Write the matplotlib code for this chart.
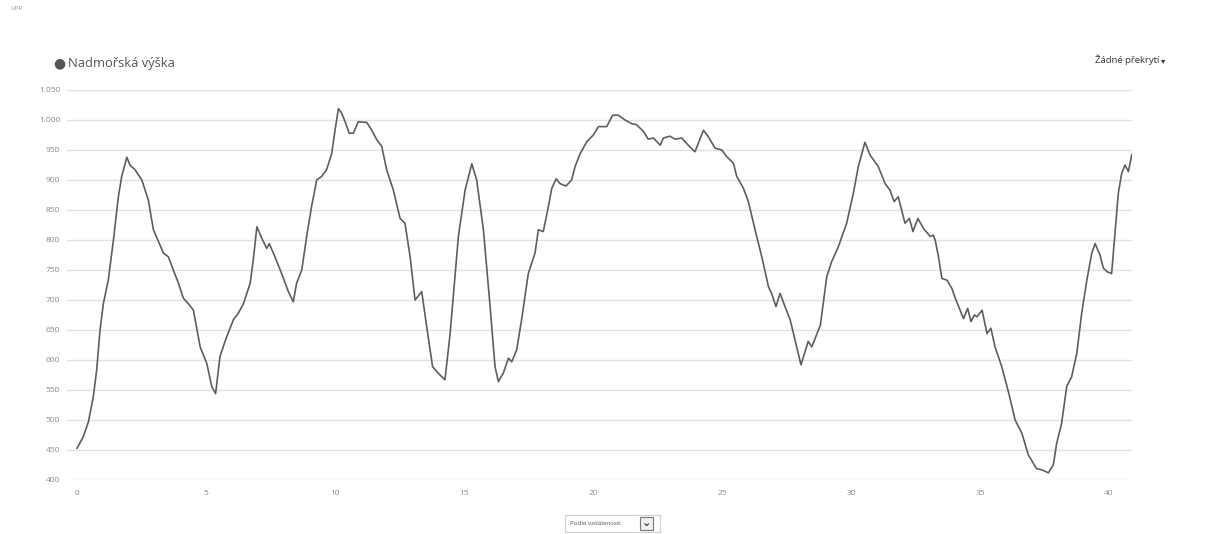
import matplotlib
matplotlib.use("Agg")
import matplotlib.pyplot as plt
from matplotlib.patches import Rectangle

# Distance (km) and elevation (m)
distance_km = [
    0.00, 0.24, 0.44, 0.63, 0.76, 0.89, 1.02, 1.21, 1.41, 1.60, 1.73, 1.93, 2.05, 2.25, 2.51, 2.76,
    2.96, 3.35, 3.54, 3.73, 3.93, 4.12, 4.31, 4.51, 4.77, 5.03, 5.22, 5.37, 5.54, 5.80, 6.06, 6.25,
    6.45, 6.71, 6.83, 6.97, 7.16, 7.35, 7.45, 7.67, 7.93, 8.19, 8.38, 8.51, 8.71, 8.90, 9.09, 9.29,
    9.48, 9.67, 9.87, 10.00, 10.13, 10.26, 10.39, 10.55, 10.71, 10.90, 11.23, 11.42, 11.62, 11.81,
    12.00, 12.26, 12.52, 12.71, 12.91, 13.10, 13.36, 13.55, 13.78, 14.00, 14.26, 14.46, 14.78, 15.04,
    15.30, 15.49, 15.75, 16.01, 16.20, 16.33, 16.52, 16.72, 16.85, 17.04, 17.23, 17.49, 17.75, 17.88,
    18.07, 18.27, 18.40, 18.57, 18.72, 18.95, 19.17, 19.30, 19.50, 19.76, 20.01, 20.21, 20.53, 20.76,
    20.98, 21.24, 21.50, 21.69, 21.95, 22.14, 22.34, 22.60, 22.73, 22.98, 23.18, 23.44, 23.69, 23.95,
    24.28, 24.47, 24.73, 24.99, 25.18, 25.44, 25.57, 25.83, 26.02, 26.28, 26.54, 26.80, 26.92, 27.09,
    27.25, 27.44, 27.64, 27.83, 28.06, 28.22, 28.34, 28.48, 28.81, 29.06, 29.25, 29.51, 29.83, 30.09,
    30.28, 30.54, 30.73, 31.06, 31.32, 31.51, 31.67, 31.83, 32.09, 32.26, 32.40, 32.59, 32.81, 33.07,
    33.19, 33.26, 33.39, 33.52, 33.72, 33.91, 34.04, 34.23, 34.36, 34.52, 34.65, 34.78, 34.88, 35.08,
    35.27, 35.42, 35.58, 35.84, 36.10, 36.36, 36.62, 36.87, 37.19, 37.39, 37.65, 37.84, 37.97, 38.16,
    38.36, 38.55, 38.75, 38.94, 39.14, 39.33, 39.46, 39.65, 39.78, 39.93, 40.10, 40.23, 40.36, 40.49,
    40.62, 40.75, 40.88,
]
elevation_m = [
    453, 472, 497, 539, 583, 650, 694, 733, 800, 872, 906, 938, 925, 917, 900, 867,
    817, 778, 772, 750, 728, 703, 694, 683, 622, 594, 556, 544, 606, 639, 667, 678,
    694, 728, 767, 822, 803, 786, 794, 772, 744, 714, 697, 728, 750, 806, 856, 900,
    906, 917, 944, 983, 1019, 1011, 997, 978, 978, 997, 996, 983, 967, 956,
    917, 883, 836, 828, 772, 700, 714, 656, 589, 578, 567, 644, 806, 883,
    927, 900, 817, 689, 589, 564, 578, 603, 597, 617, 667, 744, 778, 817,
    814, 856, 886, 902, 894, 890, 900, 922, 944, 964, 975, 989, 989, 1008,
    1008, 1000, 994, 992, 981, 968, 970, 958, 970, 973, 968, 970, 958, 947,
    983, 972, 953, 950, 939, 928, 906, 886, 864, 817, 772, 722, 711, 689,
    711, 689, 667, 633, 592, 614, 631, 622, 658, 739, 764, 789, 828, 878,
    922, 963, 942, 922, 894, 883, 864, 872, 828, 836, 814, 836, 819, 806,
    808, 800, 772, 736, 733, 719, 703, 683, 669, 686, 664, 675, 672, 683,
    644, 653, 622, 589, 547, 500, 478, 442, 419, 417, 412, 425, 461, 494,
    556, 572, 611, 678, 733, 778, 794, 775, 753, 747, 744, 811, 878, 911,
    925, 914, 942,
]
x_ticks = [0, 5, 10, 15, 20, 25, 30, 35, 40]
y_ticks = [400, 450, 500, 550, 600, 650, 700, 750, 800, 850, 900, 950, 1000, 1050]
y_tick_labels = ["400", "450", "500", "550", "600", "650", "700", "750", "800", "850",
                 "900", "950", "1.000", "1.050"]
series_name = "Nadmořská výška"

plt.rcParams['font.family'] = ['Open Sans', 'DejaVu Sans']

W, H = 1213, 534
fig = plt.figure(figsize=(W / 100, H / 100), dpi=100)
fig.patch.set_facecolor("white")

ax = fig.add_axes([67 / W, 1 - 480 / H, (1132 - 67) / W, (480 - 90) / H])
ax.plot(distance_km, elevation_m, color="#5e5e5e", lw=1.2, solid_joinstyle="round")
ax.set_xlim(-0.39, 40.89)
ax.set_ylim(400, 1050)
ax.set_xticks(x_ticks)
ax.set_xticklabels([str(t) for t in x_ticks])
ax.set_yticks(y_ticks)
ax.set_yticklabels(y_tick_labels)
ax.grid(axis="y", color="#e2e2e2", lw=1.0)
ax.grid(axis="x", visible=False)
ax.set_axisbelow(True)
for s in ax.spines.values():
    s.set_visible(False)
ax.tick_params(axis="both", length=0, labelsize=6, labelcolor="#8a8a8a")
ax.tick_params(axis="y", pad=5)
ax.tick_params(axis="x", pad=7)

# Title with dot marker
fig.text(53 / W, 1 - 63 / H, "●", fontsize=10, color="#555555", va="center", ha="left",
         family=["DejaVu Sans"])
fig.text(68 / W, 1 - 64 / H, series_name, fontsize=9.3, color="#555555", va="center", ha="left")

# Overlay selector at top right
fig.text(1159 / W, 1 - 60 / H, "Žádné překrytí", fontsize=6.8, color="#333333", va="center", ha="right")
fig.text(1163 / W, 1 - 61 / H, "▾", fontsize=6, color="#333333", va="center", ha="center",
         family=["DejaVu Sans"])

# Faint header text
fig.text(10 / W, 1 - 9 / H, "UPR", fontsize=4.5, color="#9a9a9a", va="center", ha="left")

# Bottom dropdown
fig.patches.append(Rectangle((565 / W, 1 - 532 / H), 95 / W, 17 / H, transform=fig.transFigure,
                             facecolor="white", edgecolor="#cfcfcf", lw=0.8))
fig.text(570 / W, 1 - 523.5 / H, "Podle vzdálenosti", fontsize=4.5, color="#555555",
         va="center", ha="left")
fig.patches.append(Rectangle((640 / W, 1 - 530 / H), 13 / W, 13 / H, transform=fig.transFigure,
                             facecolor="#f0f0f0", edgecolor="#777777", lw=0.8))
fig.text(646.5 / W, 1 - 523.5 / H, "⌄", fontsize=8, color="#333333", va="center", ha="center",
         family=["DejaVu Sans"], fontweight="bold")

fig.savefig("out.png", dpi=100, facecolor="white")
